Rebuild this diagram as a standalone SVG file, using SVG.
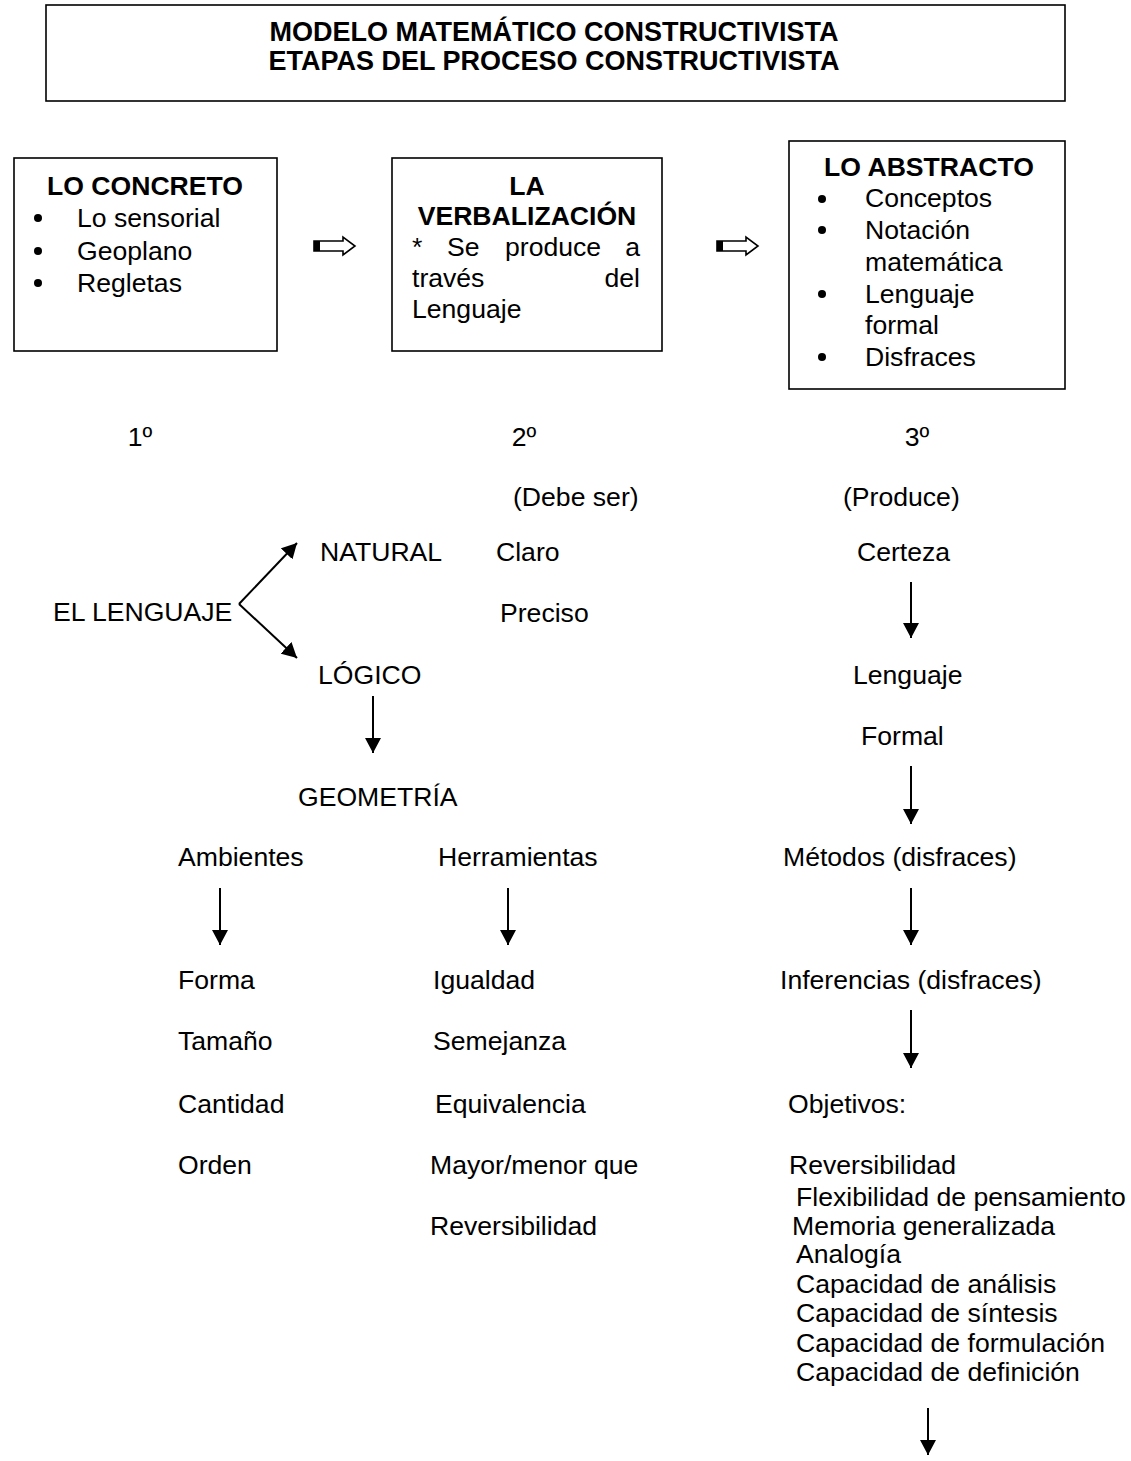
<svg xmlns="http://www.w3.org/2000/svg" width="1131" height="1461" viewBox="0 0 1131 1461">
<defs>
<style>
text{font-family:"Liberation Sans",Arial,sans-serif;font-size:26.6px;fill:#000}
.b{font-weight:bold}
.t{font-size:27px}
.c{text-anchor:middle}
.e{text-anchor:end}
.box{fill:#fff;stroke:#000;stroke-width:1.6}
.ln{stroke:#000;stroke-width:2;fill:none;marker-end:url(#ah)}
.blk{fill:#fff;stroke:#000;stroke-width:1.6}
</style>
<marker id="ah" markerUnits="userSpaceOnUse" markerWidth="16" markerHeight="16" refX="15" refY="8" orient="auto">
<path d="M0,0 L15,8 L0,16 Z" fill="#000"/>
</marker>
</defs>
<rect width="1131" height="1461" fill="#fff"/>

<g id="title">
<rect class="box" x="46" y="5" width="1019" height="96"/>
<text class="b c t" x="554" y="41">MODELO MATEMÁTICO CONSTRUCTIVISTA</text>
<text class="b c t" x="554" y="70">ETAPAS DEL PROCESO CONSTRUCTIVISTA</text>
</g>

<g id="concreto">
<rect class="box" x="14" y="158" width="263" height="193"/>
<text class="b c" x="145" y="195">LO CONCRETO</text>
<circle cx="38" cy="218" r="4"/><text x="77" y="227">Lo sensorial</text>
<circle cx="38" cy="251" r="4"/><text x="77" y="260">Geoplano</text>
<circle cx="38" cy="283" r="4"/><text x="77" y="292">Regletas</text>
</g>

<g id="verbalizacion">
<rect class="box" x="392" y="158" width="270" height="193"/>
<text class="b c" x="527" y="195">LA</text>
<text class="b c" x="527" y="225">VERBALIZACIÓN</text>
<text x="412" y="256">*</text>
<text x="447" y="256">Se</text>
<text x="505" y="256">produce</text>
<text class="e" x="640" y="256">a</text>
<text x="412" y="287">través</text>
<text class="e" x="640" y="287">del</text>
<text x="412" y="318">Lenguaje</text>
</g>

<g id="abstracto">
<rect class="box" x="789" y="141" width="276" height="248"/>
<text class="b c" x="929" y="176">LO ABSTRACTO</text>
<circle cx="822" cy="199" r="4"/><text x="865" y="207">Conceptos</text>
<circle cx="822" cy="230" r="4"/><text x="865" y="239">Notación</text>
<text x="865" y="271">matemática</text>
<circle cx="822" cy="294" r="4"/><text x="865" y="303">Lenguaje</text>
<text x="865" y="334">formal</text>
<circle cx="822" cy="357" r="4"/><text x="865" y="366">Disfraces</text>
</g>

<g id="blockarrows">
<path class="blk" d="M314,241 H343 V237 L355,246 L343,255 V251 H314 Z"/>
<rect x="314" y="241" width="6" height="10" fill="#000"/>
<path class="blk" d="M717,241 H746 V237 L758,246 L746,255 V251 H717 Z"/>
<rect x="717" y="241" width="6" height="10" fill="#000"/>
</g>

<g id="labels">
<text class="c" x="140" y="446">1º</text>
<text class="c" x="524" y="446">2º</text>
<text class="c" x="917" y="446">3º</text>
<text x="513" y="506">(Debe ser)</text>
<text x="843" y="506">(Produce)</text>
<text x="320" y="561">NATURAL</text>
<text x="496" y="561">Claro</text>
<text x="857" y="561">Certeza</text>
<text x="53" y="621">EL LENGUAJE</text>
<text x="500" y="622">Preciso</text>
<text x="318" y="684">LÓGICO</text>
<text x="853" y="684">Lenguaje</text>
<text x="861" y="745">Formal</text>
<text x="298" y="806">GEOMETRÍA</text>
<text x="178" y="866">Ambientes</text>
<text x="438" y="866">Herramientas</text>
<text x="783" y="866">Métodos (disfraces)</text>
<text x="178" y="989">Forma</text>
<text x="433" y="989">Igualdad</text>
<text x="780" y="989">Inferencias (disfraces)</text>
<text x="178" y="1050">Tamaño</text>
<text x="433" y="1050">Semejanza</text>
<text x="178" y="1113">Cantidad</text>
<text x="435" y="1113">Equivalencia</text>
<text x="788" y="1113">Objetivos:</text>
<text x="178" y="1174">Orden</text>
<text x="430" y="1174">Mayor/menor que</text>
<text x="789" y="1174">Reversibilidad</text>
<text x="796" y="1206">Flexibilidad de pensamiento</text>
<text x="430" y="1235">Reversibilidad</text>
<text x="792" y="1235">Memoria generalizada</text>
<text x="796" y="1263">Analogía</text>
<text x="796" y="1293">Capacidad de análisis</text>
<text x="796" y="1322">Capacidad de síntesis</text>
<text x="796" y="1352">Capacidad de formulación</text>
<text x="796" y="1381">Capacidad de definición</text>
</g>

<g id="connectors">
<line class="ln" x1="239" y1="604" x2="297" y2="543"/>
<line class="ln" x1="239" y1="604" x2="297" y2="658"/>
<line class="ln" x1="373" y1="696" x2="373" y2="753"/>
<line class="ln" x1="220" y1="888" x2="220" y2="945"/>
<line class="ln" x1="508" y1="888" x2="508" y2="945"/>
<line class="ln" x1="911" y1="582" x2="911" y2="638"/>
<line class="ln" x1="911" y1="766" x2="911" y2="824"/>
<line class="ln" x1="911" y1="888" x2="911" y2="945"/>
<line class="ln" x1="911" y1="1010" x2="911" y2="1068"/>
<line class="ln" x1="928" y1="1408" x2="928" y2="1455"/>
</g>
</svg>
